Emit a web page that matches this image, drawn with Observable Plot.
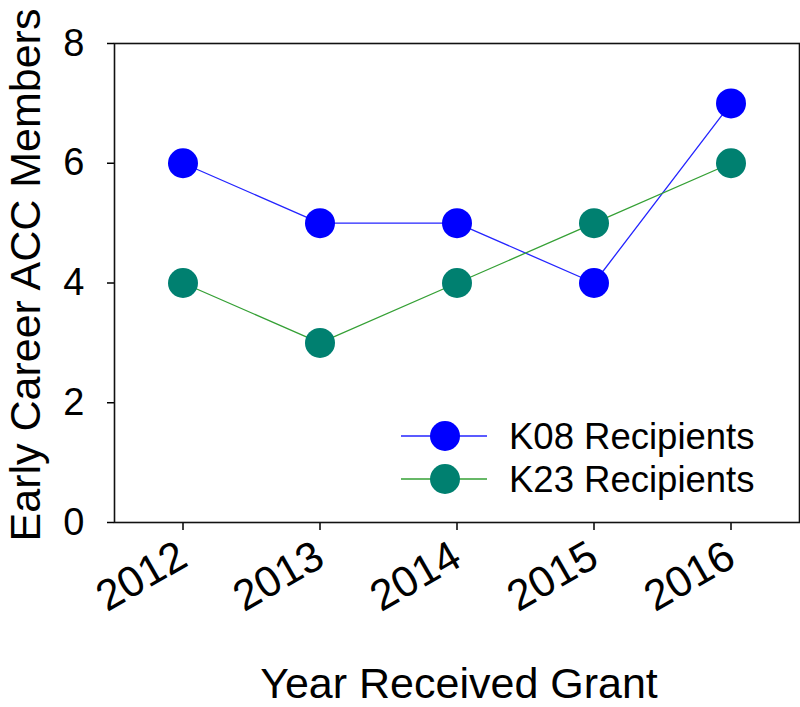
<!DOCTYPE html>
<html>
<head>
<meta charset="utf-8">
<script src="https://cdn.jsdelivr.net/npm/d3@7"></script>
<script src="https://cdn.jsdelivr.net/npm/@observablehq/plot@0.6"></script>
<style>
  html, body { margin: 0; padding: 0; background: #fff; }
  #chart { width: 800px; height: 707px; }
</style>
</head>
<body>
<div id="chart"></div>
<script>
const years = [2012, 2013, 2014, 2015, 2016];
const k08 = [6, 5, 5, 4, 7];
const k23 = [4, 3, 4, 5, 6];
const seriesNames = ["K08 Recipients", "K23 Recipients"];
const yTicks = [0, 2, 4, 6, 8];
const xTitle = "Year Received Grant";
const yTitle = "Early Career ACC Members";

const lineColors = ["#2424ff", "#35a035"];
const dotColors = ["#0000ff", "#008070"];

const rows = [];
years.forEach((yr, i) => {
  rows.push({ year: yr, value: k08[i], series: seriesNames[0] });
  rows.push({ year: yr, value: k23[i], series: seriesNames[1] });
});
const s0 = rows.filter(d => d.series === seriesNames[0]);
const s1 = rows.filter(d => d.series === seriesNames[1]);

const plot = Plot.plot({
  width: 800,
  height: 707,
  marginLeft: 114,
  marginRight: 1,
  marginTop: 43,
  marginBottom: 185,
  style: { fontFamily: "'Liberation Sans', Arial, sans-serif", background: "#fff", color: "#000" },
  x: { type: "linear", domain: [2011.5, 2016.5] },
  y: { domain: [0, 8] },
  marks: [
    Plot.axisY({ ticks: yTicks, tickSize: 7, tickPadding: 23, fontSize: 38, label: null, tickFormat: d => String(d), strokeWidth: 1.5 }),
    Plot.axisX({ ticks: years, tickSize: 8, tickPadding: 22, tickRotate: -30, fontSize: 43, label: null, tickFormat: d => String(d), strokeWidth: 1.5 }),
    Plot.frame({ stroke: "#111", strokeWidth: 1.6 }),
    Plot.line(s0, { x: "year", y: "value", stroke: lineColors[0], strokeWidth: 1.3 }),
    Plot.line(s1, { x: "year", y: "value", stroke: lineColors[1], strokeWidth: 1.3 }),
    Plot.dot(s0, { x: "year", y: "value", r: 15, fill: dotColors[0], stroke: "none" }),
    Plot.dot(s1, { x: "year", y: "value", r: 15, fill: dotColors[1], stroke: "none" }),
    Plot.text([xTitle], { text: d => d, frameAnchor: "bottom", dy: 175, dx: 2, textAnchor: "middle", lineAnchor: "bottom", fontSize: 43, fill: "#000" }),
    Plot.text([yTitle], { text: d => d, frameAnchor: "left", dx: -75, dy: -8, rotate: -90, textAnchor: "middle", lineAnchor: "bottom", fontSize: 43, fill: "#000" })
  ]
});

// Legend inside the frame
const svg = d3.select(plot);
const lg = svg.append("g").attr("class", "legend").attr("text-anchor", "start");
seriesNames.forEach((name, i) => {
  const cy = 436 + i * 43;
  lg.append("line").attr("x1", 401).attr("x2", 487).attr("y1", cy).attr("y2", cy)
    .attr("stroke", lineColors[i]).attr("stroke-width", 1.3);
  lg.append("circle").attr("cx", 445).attr("cy", cy).attr("r", 15).attr("fill", dotColors[i]);
  lg.append("text").attr("x", 509).attr("y", cy).attr("dy", "0.35em")
    .attr("text-anchor", "start")
    .attr("font-size", 36.5).attr("fill", "#000").text(name);
});

document.getElementById("chart").appendChild(plot);
</script>
</body>
</html>
